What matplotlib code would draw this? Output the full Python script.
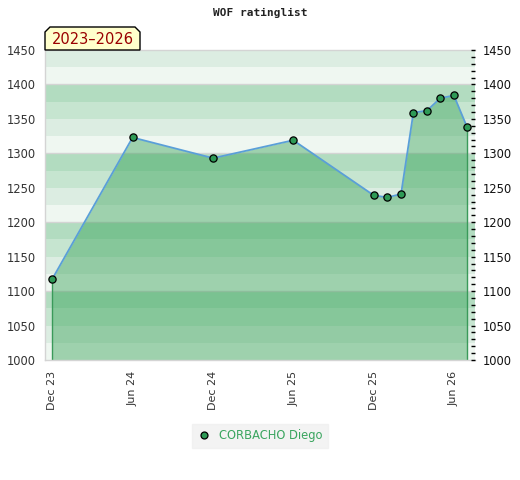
import matplotlib
matplotlib.use("Agg")
import matplotlib.pyplot as plt
from matplotlib.patches import Polygon
from matplotlib.lines import Line2D
from matplotlib.ticker import MultipleLocator
import numpy as np
import datetime as dt

# ---- data ----
dates = ["2023-12-01", "2024-06-01", "2024-12-01", "2025-06-01", "2025-12-01",
         "2026-01-01", "2026-02-01", "2026-03-01", "2026-04-01", "2026-05-01",
         "2026-06-01", "2026-07-01"]
ratings = [1117, 1323, 1293, 1319, 1239, 1236, 1241, 1359, 1362, 1380, 1384, 1338]
tick_dates = ["2023-12-01", "2024-06-01", "2024-12-01", "2025-06-01", "2025-12-01", "2026-06-01"]
tick_labels = ["Dec 23", "Jun 24", "Dec 24", "Jun 25", "Dec 25", "Jun 26"]
player = "CORBACHO Diego"
title = "WOF ratinglist"
period = "2023\u20132026"
y_min, y_max = 1000, 1450

x = [dt.datetime.fromisoformat(d) for d in dates]
xt = [dt.datetime.fromisoformat(d) for d in tick_dates]

fig = plt.figure(figsize=(5.2, 4.8), dpi=100)
W, H = 520, 480
ax = fig.add_axes([45 / W, 1 - 360 / H, 430 / W, 310 / H])

# background bands
band_colors = ["#eff7f1", "#dcede2", "#c6e5d0", "#b2dcc0"]  # bottom to top within each 100
edges = np.arange(y_min, y_max, 25)
for i, lo in enumerate(edges):
    ax.axhspan(lo, lo + 25, color=band_colors[i % 4], lw=0, zorder=0)
for g in range(y_min + 100, y_max, 100):
    ax.axhline(g, color="#d4d4d4", lw=1.0, zorder=0.5)

ax.fill_between(x, ratings, y_min, color="#2e9e50", alpha=0.42, lw=0, zorder=1)
ax.vlines([x[0], x[-1]], y_min, [ratings[0], ratings[-1]], color="#3a9a5a", lw=1.0, zorder=2)
ax.plot(x, ratings, color="#5a9fd8", lw=1.3, zorder=3)
ax.plot(x, ratings, ls="none", marker="o", ms=5.2, mfc="#2e9a56", mec="black", mew=0.9, zorder=4)

ax.set_xlim(dt.datetime(2023, 11, 15), dt.datetime(2026, 7, 19))
ax.set_ylim(y_min, y_max)
ax.set_xticks(xt)
ax.set_xticklabels(tick_labels, rotation=90, fontsize=8, color="#333333")
ax.yaxis.set_major_locator(MultipleLocator(50))
ax.tick_params(axis="y", length=0, labelsize=8.3, labelcolor="#333333", pad=6.5)
ax.tick_params(axis="x", length=0, pad=8)
for s in ["left", "bottom", "top"]:
    ax.spines[s].set_color("#d4d4d4")
    ax.spines[s].set_linewidth(1.0)
ax.spines["right"].set_visible(False)

ax2 = ax.twinx()
ax2.set_ylim(y_min, y_max)
ax2.yaxis.set_major_locator(MultipleLocator(50))
ax2.yaxis.set_minor_locator(MultipleLocator(10))
ax2.tick_params(axis="y", which="both", direction="in", length=3, width=1, color="black",
                labelsize=8.3, labelcolor="#111111", pad=5.5)
for s in ax2.spines.values():
    s.set_visible(False)

fig.text(0.5, 1 - 13 / H, title, ha="center", va="center", family="DejaVu Sans Mono",
         weight="bold", fontsize=8, color="#222222")

# period label box
bx0, bx1, by0, by1, c = 45, 140, 50, 27, 5
pts = [(bx0, by0), (bx0, by1 + c), (bx0 + c, by1), (bx1 - c, by1), (bx1, by1 + c), (bx1, by0)]
poly = Polygon([(px / W, 1 - py / H) for px, py in pts], closed=True, facecolor="#ffffcc",
               edgecolor="black", lw=1.0, transform=fig.transFigure, zorder=10)
fig.patches.append(poly)
fig.text((bx0 + bx1) / 2 / W, 1 - 39.5 / H, period, ha="center", va="center",
         fontsize=10.5, color="#990000", zorder=11)

handle = Line2D([], [], ls="none", marker="o", ms=5, mfc="#2e9a56", mec="black", mew=0.9)
leg = fig.legend([handle], [player], loc="center", bbox_to_anchor=(260 / W, 1 - 436 / H),
                 frameon=True, facecolor="#f0f0f0", edgecolor="#f0f0f0", fancybox=False,
                 fontsize=8.3, handlelength=1.0, handletextpad=0.8, borderpad=0.5)
for t in leg.get_texts():
    t.set_color("#3aa55f")

fig.savefig("out.png", dpi=100)
